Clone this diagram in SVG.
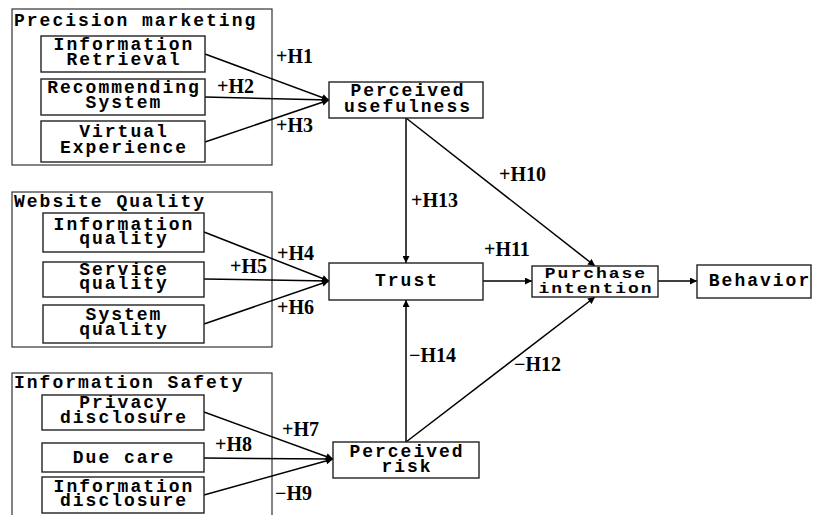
<svg xmlns="http://www.w3.org/2000/svg" width="813" height="515" viewBox="0 0 813 515">
<defs>
<style>
.grp{fill:none;stroke:#333;stroke-width:1.2}
.box{fill:#fff;stroke:#222;stroke-width:1.4}
.t{font-family:"Liberation Mono","DejaVu Sans Mono",monospace;font-weight:bold;font-size:18px;letter-spacing:2px;fill:#000;text-anchor:middle}
.gt{font-family:"Liberation Mono","DejaVu Sans Mono",monospace;font-weight:bold;font-size:18px;letter-spacing:2px;fill:#000}
.lb{font-family:"Liberation Serif","Times New Roman",serif;font-weight:bold;font-size:20px;fill:#000}
.c{fill:none;stroke:#000;stroke-width:1.5;marker-end:url(#ah)}
</style>
<marker id="ah" viewBox="0 0 10 10" refX="10" refY="5" markerWidth="8" markerHeight="7" markerUnits="userSpaceOnUse" orient="auto">
<path d="M0,0 L10,5 L0,10 Z" fill="#000"/>
</marker>
</defs>
<rect width="813" height="515" fill="#fff"/>

<g id="group-precision">
<rect class="grp" x="12" y="9" width="260" height="156"/>
<text class="gt" x="14" y="26">Precision marketing</text>
</g>
<g id="group-website">
<rect class="grp" x="12" y="192" width="260" height="155"/>
<text class="gt" x="14" y="207">Website Quality</text>
</g>
<g id="group-safety">
<rect class="grp" x="12" y="373" width="260" height="150"/>
<text class="gt" x="14" y="388">Information Safety</text>
</g>

<g id="connectors">
<line class="c" x1="205" y1="54" x2="329" y2="100"/>
<line class="c" x1="205" y1="97" x2="329" y2="100"/>
<line class="c" x1="205" y1="142" x2="329" y2="100"/>
<line class="c" x1="204" y1="232" x2="329" y2="281"/>
<line class="c" x1="204" y1="279" x2="329" y2="281"/>
<line class="c" x1="204" y1="324" x2="329" y2="281"/>
<line class="c" x1="204" y1="412" x2="333" y2="459"/>
<line class="c" x1="204" y1="458" x2="333" y2="459"/>
<line class="c" x1="204" y1="495" x2="333" y2="459"/>
<line class="c" x1="406" y1="118" x2="406" y2="263"/>
<line class="c" x1="406" y1="118" x2="595" y2="266"/>
<line class="c" x1="483" y1="281" x2="532" y2="281"/>
<line class="c" x1="658" y1="281" x2="697" y2="281"/>
<line class="c" x1="406" y1="442" x2="406" y2="300"/>
<line class="c" x1="406" y1="442" x2="595" y2="297"/>
<text class="lb" x="276" y="63">+H1</text>
<text class="lb" x="217" y="93">+H2</text>
<text class="lb" x="276" y="132">+H3</text>
<text class="lb" x="277" y="260">+H4</text>
<text class="lb" x="230" y="273">+H5</text>
<text class="lb" x="277" y="314">+H6</text>
<text class="lb" x="282" y="436">+H7</text>
<text class="lb" x="215" y="451">+H8</text>
<text class="lb" x="275" y="500">−H9</text>
<text class="lb" x="499" y="181">+H10</text>
<text class="lb" x="484" y="256">+H11</text>
<text class="lb" x="514" y="371">−H12</text>
<text class="lb" x="411" y="207">+H13</text>
<text class="lb" x="409" y="362">−H14</text>
</g>

<g id="info-retrieval">
<rect class="box" x="41" y="36" width="164" height="36"/>
<text class="t"><tspan x="124" y="50">Information</tspan><tspan x="124" y="65">Retrieval</tspan></text>
</g>
<g id="recommending-system">
<rect class="box" x="41" y="79" width="164" height="36"/>
<text class="t"><tspan x="124" y="93">Recommending</tspan><tspan x="124" y="108">System</tspan></text>
</g>
<g id="virtual-experience">
<rect class="box" x="41" y="121" width="164" height="41"/>
<text class="t"><tspan x="124" y="137">Virtual</tspan><tspan x="124" y="153">Experience</tspan></text>
</g>
<g id="perceived-usefulness">
<rect class="box" x="329" y="82" width="154" height="36"/>
<text class="t"><tspan x="408" y="96">Perceived</tspan><tspan x="408" y="112">usefulness</tspan></text>
</g>
<g id="information-quality">
<rect class="box" x="43" y="213" width="161" height="39"/>
<text class="t"><tspan x="124" y="230">Information</tspan><tspan x="124" y="244">quality</tspan></text>
</g>
<g id="service-quality">
<rect class="box" x="43" y="262" width="161" height="35"/>
<text class="t"><tspan x="124" y="275">Service</tspan><tspan x="124" y="289">quality</tspan></text>
</g>
<g id="system-quality">
<rect class="box" x="43" y="305" width="161" height="38"/>
<text class="t"><tspan x="124" y="320">System</tspan><tspan x="124" y="335">quality</tspan></text>
</g>
<g id="trust">
<rect class="box" x="329" y="263" width="154" height="37"/>
<text class="t" x="407" y="286">Trust</text>
</g>
<g id="purchase-intention">
<rect class="box" x="532" y="266" width="126" height="31"/>
<text class="t" transform="translate(596 0) scale(1 0.85)"><tspan x="0" y="327">Purchase</tspan><tspan x="0" y="345">intention</tspan></text>
</g>
<g id="behavior">
<rect class="box" x="697" y="265" width="114" height="33"/>
<text class="t" x="760" y="286">Behavior</text>
</g>
<g id="perceived-risk">
<rect class="box" x="333" y="442" width="146" height="36"/>
<text class="t"><tspan x="407" y="457">Perceived</tspan><tspan x="407" y="472">risk</tspan></text>
</g>
<g id="privacy-disclosure">
<rect class="box" x="42" y="395" width="162" height="35"/>
<text class="t"><tspan x="124" y="408">Privacy</tspan><tspan x="124" y="423">disclosure</tspan></text>
</g>
<g id="due-care">
<rect class="box" x="42" y="443" width="162" height="29"/>
<text class="t" x="124" y="463">Due care</text>
</g>
<g id="information-disclosure">
<rect class="box" x="42" y="477" width="162" height="36"/>
<text class="t"><tspan x="124" y="492">Information</tspan><tspan x="124" y="506">disclosure</tspan></text>
</g>
</svg>
